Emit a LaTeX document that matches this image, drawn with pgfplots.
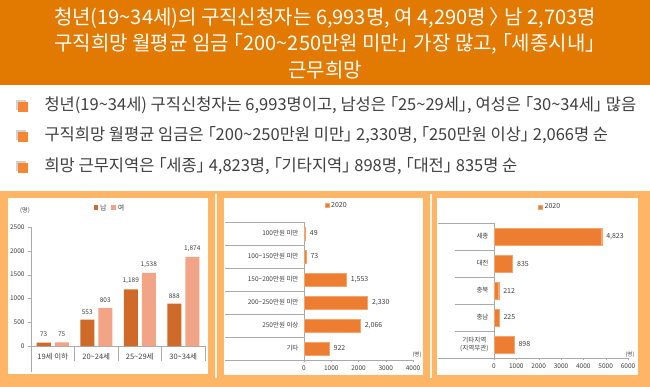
\documentclass[border=0pt]{standalone}
\usepackage{pgfplots}
\pgfplotsset{compat=1.18}
\usepackage{fontspec}
\setmainfont{Noto Sans CJK KR}[RawFeature=+palt]
\newcommand{\tl}{\char"7E\relax}
\definecolor{hdr}{RGB}{226,121,0}
\definecolor{bgorange}{RGB}{255,181,102}
\definecolor{male}{RGB}{208,106,40}
\definecolor{female}{RGB}{242,164,134}
\definecolor{barc}{RGB}{237,125,49}
\definecolor{baredge}{RGB}{244,165,110}
\definecolor{txt}{RGB}{64,64,64}
\definecolor{bul}{RGB}{247,134,52}
\definecolor{axc}{RGB}{170,170,170}
\pgfplotsset{/pgf/number format/1000 sep={}, /pgf/number format/assume math mode=true}
\begin{document}
\begin{tikzpicture}[x=1pt,y=1pt]
% background
\fill[white] (0,0) rectangle (650,-387);
% header
\fill[hdr] (0,0) rectangle (650,-85);
\node[white, font=\fontsize{20}{23}\selectfont] at (325,-18) {청년(19\tl34세)의 구직신청자는 6,993명, 여 4,290명 〉 남 2,703명};
\node[white, font=\fontsize{20}{23}\selectfont] at (325,-44) {구직희망 월평균 임금 「200\tl250만원 미만」 가장 많고, 「세종시내」};
\node[white, font=\fontsize{20}{23}\selectfont] at (325,-70) {근무희망};
% bullets
\foreach \yy in {106,136,167}{
  \fill[gray!35] (16,-\yy+6) rectangle (26,-\yy-4);
  \fill[bul] (18,-\yy+4) rectangle (28,-\yy-6);
}
\node[txt, anchor=west, font=\fontsize{16.5}{19}\selectfont] at (41,-105) {청년(19\tl34세) 구직신청자는 6,993명이고, 남성은 「25\tl29세」, 여성은 「30\tl34세」 많음};
\node[txt, anchor=west, font=\fontsize{16.5}{19}\selectfont] at (41,-135) {구직희망 월평균 임금은 「200\tl250만원 미만」 2,330명, 「250만원 이상」 2,066명 순};
\node[txt, anchor=west, font=\fontsize{16.5}{19}\selectfont] at (41,-166) {희망 근무지역은 「세종」 4,823명, 「기타지역」 898명, 「대전」 835명 순};
% bottom band
\fill[bgorange] (0,-191) rectangle (650,-387);
\fill[white] (8,-198) rectangle (208,-374);
\fill[white] (224,-198) rectangle (423,-375);
\fill[white] (437,-198) rectangle (638,-375);
\fill[white!85!bgorange] (214.5,-194) rectangle (216.5,-378);
\fill[white!85!bgorange] (429.5,-194) rectangle (431.5,-378);
% chart 1
\node[txt, font=\fontsize{6}{7}\selectfont] at (25,-211) {(명)};
\begin{axis}[at={(31pt,-346pt)}, anchor=south west, scale only axis,
  width=174pt, height=119pt,
  ybar=4pt, bar width=14pt,
  xmin=-0.5, xmax=3.5, ymin=0, ymax=2500,
  xtick={0,1,2,3}, xticklabels={19세 이하,20\tl24세,25\tl29세,30\tl34세},
  xtick style={draw=none},
  xticklabel style={font=\fontsize{7.5}{9}\selectfont, text=txt, yshift=-1pt},
  ytick={0,500,1000,1500,2000,2500},
  yticklabel style={font=\fontsize{6.5}{8}\selectfont, text=txt},
  axis x line*=bottom, axis y line*=left,
  axis line style={draw=axc,-},
  ytick style={draw=axc}, tick align=outside, major tick length=3pt,
  enlarge x limits=false, clip=false,
  nodes near coords={\pgfmathprintnumber[1000 sep={,}]{\pgfplotspointmeta}},
  every node near coord/.append style={font=\fontsize{6.5}{8}\selectfont, text=txt, yshift=2pt},
  legend style={at={(0.454,1.16)}, anchor=center, draw=none, fill=none,
    legend columns=2, font=\fontsize{7}{8}\selectfont, text=txt,
    /tikz/every even column/.append style={column sep=3pt}},
  legend image code/.code={\fill[#1] (0pt,-2pt) rectangle (4.5pt,2.5pt);},
]
\addplot[fill=male, draw=none] coordinates {(0,73) (1,553) (2,1189) (3,888)};
\addplot[fill=female, draw=none] coordinates {(0,75) (1,803) (2,1538) (3,1874)};
\legend{남,여}
\draw[axc] (axis cs:-0.5,0) -- ++(0pt,-26pt);
\draw[axc] (axis cs:0.5,0) -- ++(0pt,-15pt);
\draw[axc] (axis cs:1.5,0) -- ++(0pt,-15pt);
\draw[axc] (axis cs:2.5,0) -- ++(0pt,-15pt);
\draw[axc] (axis cs:3.5,0) -- ++(0pt,-15pt);
\end{axis}
% chart 2
\node[txt, font=\fontsize{5.5}{7}\selectfont] at (417,-355) {(명)};
\begin{axis}[at={(304pt,-360pt)}, anchor=south west, scale only axis,
  width=109pt, height=138pt,
  xbar, bar width=13pt,
  xmin=0, xmax=4000, ymin=-0.5, ymax=5.5,
  xtick={0,1000,2000,3000,4000}, ytick={0,1,2,3,4,5},
  yticklabels={기타,250만원 이상,200\tl250만원 미만,150\tl200만원 미만,100\tl150만원 미만,100만원 미만},
  ytick style={draw=none},
  yticklabel style={font=\fontsize{6.5}{8}\selectfont, text=txt},
  xticklabel style={font=\fontsize{6.5}{8}\selectfont, text=txt},
  axis x line*=bottom, axis y line*=left,
  axis line style={draw=axc,-},
  xtick style={draw=axc}, tick align=outside, major tick length=2pt,
  clip=false,
  point meta=x,
  nodes near coords={\pgfmathprintnumber[1000 sep={,}]{\pgfplotspointmeta}},
  every node near coord/.append style={font=\fontsize{7}{8}\selectfont, text=txt, xshift=1pt},
  legend style={at={(0.30,1.12)}, anchor=center, draw=none, fill=none,
    font=\fontsize{7}{8}\selectfont, text=txt},
  legend image code/.code={\fill[#1] (0pt,-2pt) rectangle (4pt,2pt);},
]
\addplot[fill=barc, draw=baredge] coordinates {(922,0) (2066,1) (2330,2) (1553,3) (73,4) (49,5)};
\legend{2020}
\draw[axc] (axis cs:0,-0.5) -- ++(-79pt,0pt);
\draw[axc] (axis cs:0,0.5) -- ++(-79pt,0pt);
\draw[axc] (axis cs:0,1.5) -- ++(-79pt,0pt);
\draw[axc] (axis cs:0,2.5) -- ++(-79pt,0pt);
\draw[axc] (axis cs:0,3.5) -- ++(-79pt,0pt);
\draw[axc] (axis cs:0,4.5) -- ++(-79pt,0pt);
\draw[axc] (axis cs:0,5.5) -- ++(-79pt,0pt);
\end{axis}
% chart 3
\node[txt, font=\fontsize{5.5}{7}\selectfont] at (630,-355) {(명)};
\begin{axis}[at={(494pt,-358pt)}, anchor=south west, scale only axis,
  width=134pt, height=135pt,
  xbar, bar width=17pt,
  xmin=0, xmax=6000, ymin=-0.5, ymax=4.5,
  xtick={0,1000,2000,3000,4000,5000,6000}, ytick={0,1,2,3,4},
  yticklabels={{기타지역\\(지역무관)},충남,충북,대전,세종},
  ytick style={draw=none},
  yticklabel style={font=\fontsize{6.5}{8}\selectfont, text=txt, align=center},
  xticklabel style={font=\fontsize{6.5}{8}\selectfont, text=txt},
  axis x line*=bottom, axis y line*=left,
  axis line style={draw=axc,-},
  xtick style={draw=axc}, tick align=outside, major tick length=2pt,
  clip=false,
  point meta=x,
  nodes near coords={\pgfmathprintnumber[1000 sep={,}]{\pgfplotspointmeta}},
  every node near coord/.append style={font=\fontsize{7}{8}\selectfont, text=txt, xshift=1pt},
  legend style={at={(0.42,1.12)}, anchor=center, draw=none, fill=none,
    font=\fontsize{7}{8}\selectfont, text=txt},
  legend image code/.code={\fill[#1] (0pt,-2pt) rectangle (4pt,2pt);},
]
\addplot[fill=barc, draw=baredge] coordinates {(898,0) (225,1) (212,2) (835,3) (4823,4)};
\legend{2020}
\draw[axc] (axis cs:0,-0.5) -- ++(-56pt,0pt);
\draw[axc] (axis cs:0,0.5) -- ++(-39pt,0pt);
\draw[axc] (axis cs:0,1.5) -- ++(-39pt,0pt);
\draw[axc] (axis cs:0,2.5) -- ++(-39pt,0pt);
\draw[axc] (axis cs:0,3.5) -- ++(-39pt,0pt);
\draw[axc] (axis cs:0,4.5) -- ++(-56pt,0pt);
\end{axis}
\pgfresetboundingbox
\useasboundingbox (0,0) rectangle (650,-387);
\end{tikzpicture}
\end{document}
